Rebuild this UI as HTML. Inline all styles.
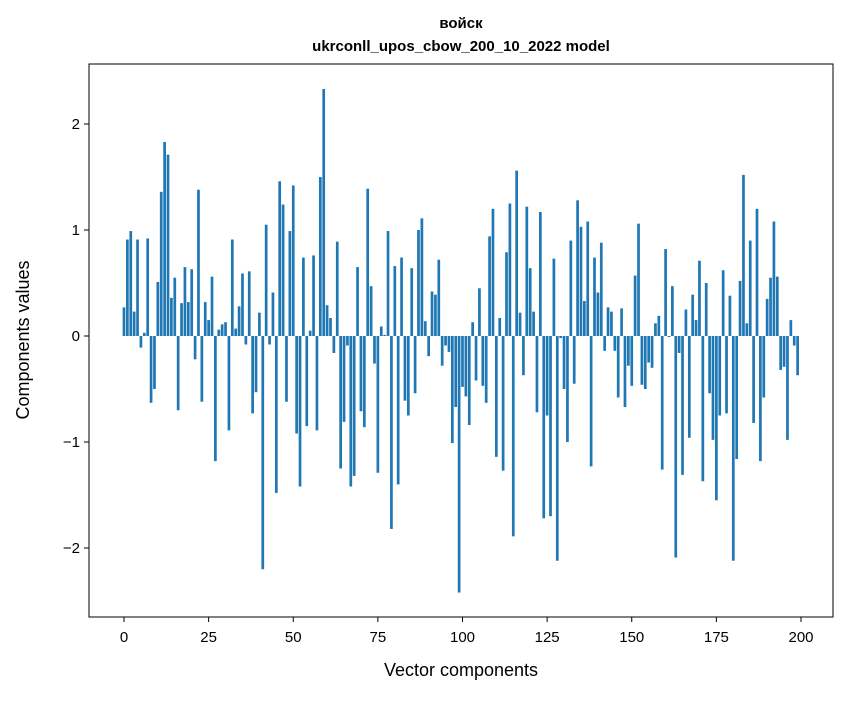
<!DOCTYPE html>
<html><head><meta charset="utf-8"><style>
body{margin:0;background:#fff}
svg text{font-family:"Liberation Sans","DejaVu Sans",sans-serif;fill:#000}
</style></head><body>
<svg id="chart" width="847" height="696" xmlns="http://www.w3.org/2000/svg">
<rect x="0" y="0" width="847" height="696" fill="#fff"/>
<text x="461" y="28" text-anchor="middle" font-size="15" font-weight="bold">войск</text>
<text x="461" y="51" text-anchor="middle" font-size="15" font-weight="bold">ukrconll_upos_cbow_200_10_2022 model</text>
<g id="bars"></g>
<g id="axes"></g>
<rect x="89" y="64" width="744" height="553" fill="none" stroke="#000" stroke-width="1"/>
<text x="461" y="676" text-anchor="middle" font-size="18">Vector components</text>
<text transform="translate(29,340) rotate(-90)" text-anchor="middle" font-size="18">Components values</text>
</svg>
<script>
const values = [0.27,0.91,0.99,0.23,0.91,-0.11,0.03,0.92,-0.63,-0.50,
0.51,1.36,1.83,1.71,0.36,0.55,-0.70,0.31,0.65,0.32,
0.63,-0.22,1.38,-0.62,0.32,0.15,0.56,-1.18,0.06,0.11,
0.13,-0.89,0.91,0.07,0.28,0.59,-0.08,0.61,-0.73,-0.53,
0.22,-2.20,1.05,-0.08,0.41,-1.48,1.46,1.24,-0.62,0.99,
1.42,-0.92,-1.42,0.74,-0.85,0.05,0.76,-0.89,1.50,2.33,
0.29,0.17,-0.16,0.89,-1.25,-0.81,-0.09,-1.42,-1.32,0.65,
-0.71,-0.86,1.39,0.47,-0.26,-1.29,0.09,0.01,0.99,-1.82,
0.66,-1.40,0.74,-0.61,-0.75,0.64,-0.54,1.00,1.11,0.14,
-0.19,0.42,0.39,0.72,-0.28,-0.09,-0.15,-1.01,-0.67,-2.42,
-0.48,-0.57,-0.84,0.13,-0.42,0.45,-0.47,-0.63,0.94,1.20,
-1.14,0.17,-1.27,0.79,1.25,-1.89,1.56,0.22,-0.37,1.22,
0.64,0.23,-0.72,1.17,-1.72,-0.75,-1.70,0.73,-2.12,-0.02,
-0.50,-1.00,0.90,-0.45,1.28,1.03,0.33,1.08,-1.23,0.74,
0.41,0.88,-0.14,0.27,0.23,-0.14,-0.58,0.26,-0.67,-0.28,
-0.47,0.57,1.06,-0.46,-0.50,-0.25,-0.30,0.12,0.19,-1.26,
0.82,-0.01,0.47,-2.09,-0.16,-1.31,0.25,-0.96,0.39,0.15,
0.71,-1.37,0.50,-0.54,-0.98,-1.55,-0.75,0.62,-0.73,0.38,
-2.12,-1.16,0.52,1.52,0.12,0.90,-0.82,1.20,-1.18,-0.58,
0.35,0.55,1.08,0.56,-0.32,-0.29,-0.98,0.15,-0.09,-0.37];
const xTicks = [0,25,50,75,100,125,150,175,200];
const yTicks = [-2,-1,0,1,2];
const yTickLabels = ["\u22122","\u22121","0","1","2"];

const NS="http://www.w3.org/2000/svg";
function xs(v){return 124 + 3.385*v;}
function ys(v){return 336 - 106*v;}
const bars=document.getElementById('bars');
values.forEach((v,i)=>{
  const r=document.createElementNS(NS,'rect');
  const y0=ys(0), y1=ys(v);
  r.setAttribute('x',xs(i-0.4));
  r.setAttribute('width',xs(0.8)-xs(0));
  r.setAttribute('y',Math.min(y0,y1));
  r.setAttribute('height',Math.abs(y1-y0));
  r.setAttribute('fill','#1f77b4');
  
  
  bars.appendChild(r);
});
const axes=document.getElementById('axes');
xTicks.forEach(t=>{
  const l=document.createElementNS(NS,'line');
  l.setAttribute('x1',xs(t));l.setAttribute('x2',xs(t));
  l.setAttribute('y1',617);l.setAttribute('y2',622);
  l.setAttribute('stroke','#000');
  
  
  axes.appendChild(l);
  const tx=document.createElementNS(NS,'text');
  tx.setAttribute('x',xs(t));tx.setAttribute('y',642);
  tx.setAttribute('text-anchor','middle');tx.setAttribute('font-size','15');
  tx.textContent=t;
  
  
  axes.appendChild(tx);
});
yTicks.forEach((t,k)=>{
  const l=document.createElementNS(NS,'line');
  l.setAttribute('x1',84);l.setAttribute('x2',89);
  l.setAttribute('y1',ys(t));l.setAttribute('y2',ys(t));
  l.setAttribute('stroke','#000');
  
  
  axes.appendChild(l);
  const tx=document.createElementNS(NS,'text');
  tx.setAttribute('x',80);tx.setAttribute('y',ys(t)+5);
  tx.setAttribute('text-anchor','end');tx.setAttribute('font-size','15');
  tx.textContent=yTickLabels[k];
  
  
  axes.appendChild(tx);
});
</script>
</body></html>
